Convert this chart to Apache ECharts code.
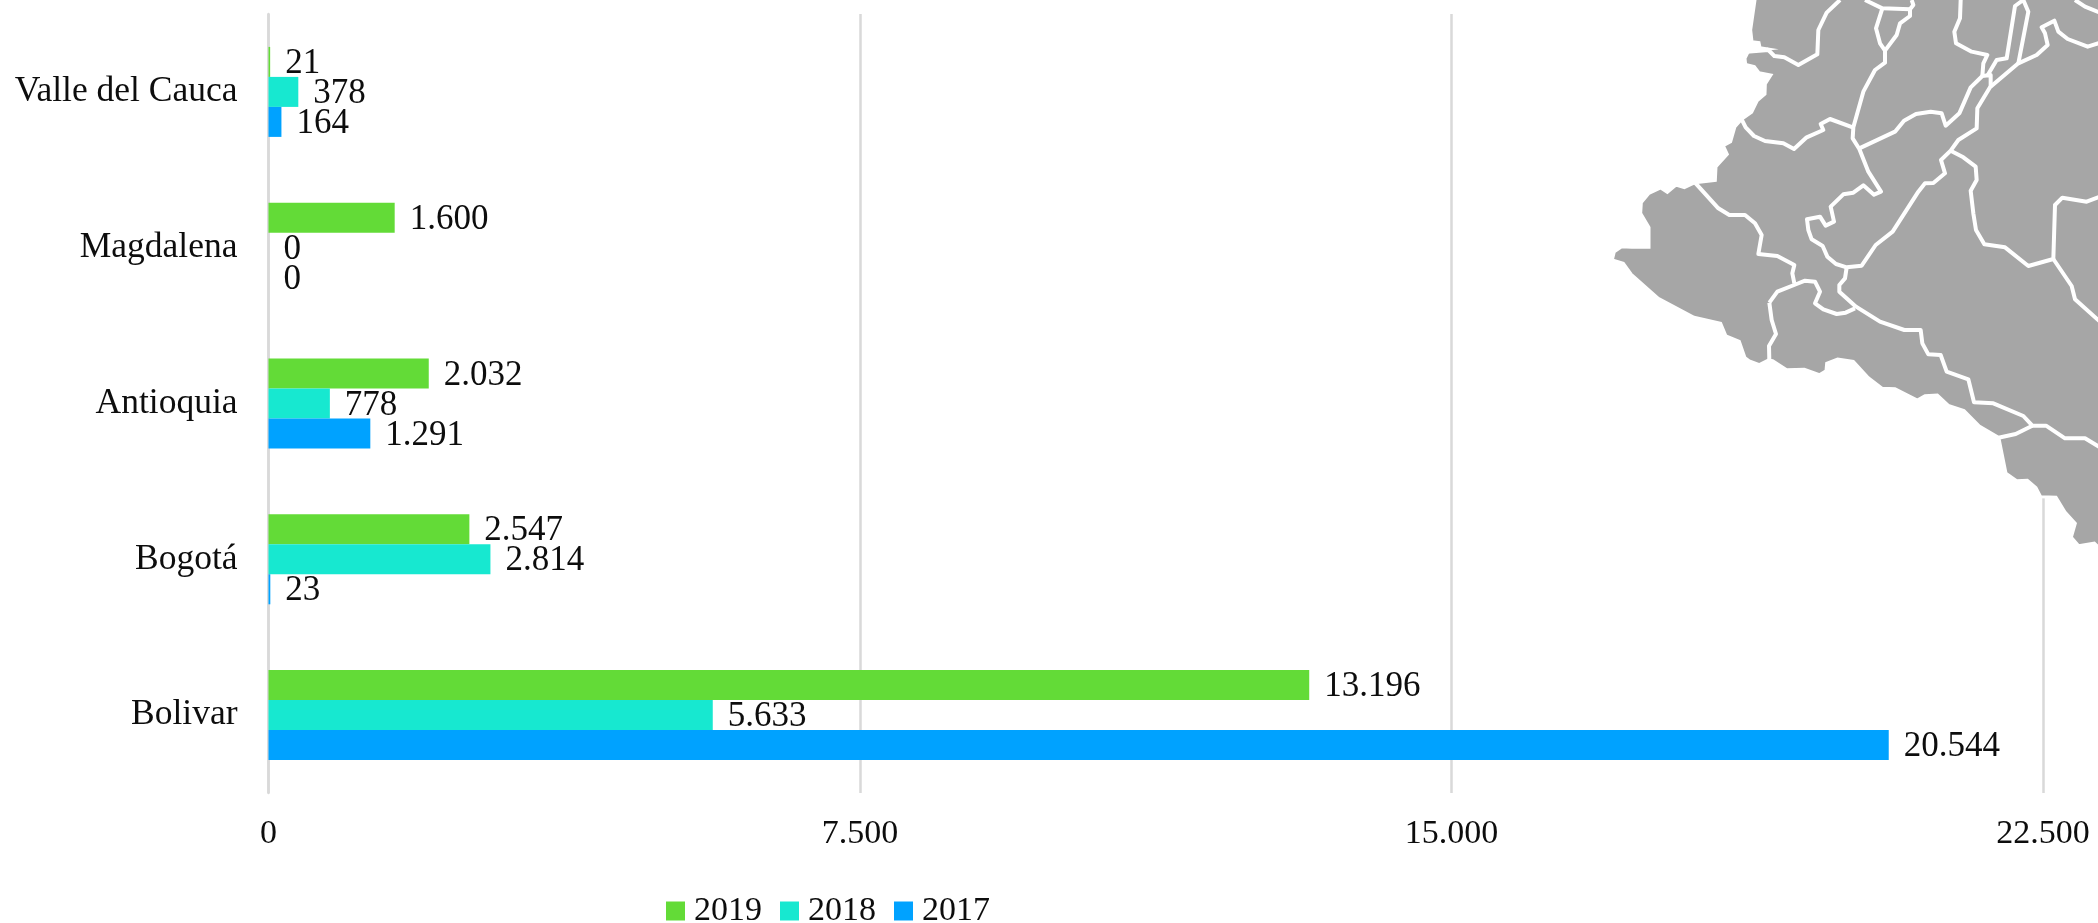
<!DOCTYPE html>
<html><head><meta charset="utf-8">
<style>html,body{margin:0;padding:0;background:#fff}#c{width:2098px;height:923px}</style>
<script src="https://cdn.jsdelivr.net/npm/echarts@6/dist/echarts.min.js"></script>
</head><body><div id="c"></div>
<script>
const categories = ['Bolivar','Bogotá','Antioquia','Magdalena','Valle del Cauca'];
const values2019 = [13196,2547,2032,1600,21];
const values2018 = [5633,2814,778,0,378];
const values2017 = [20544,23,1291,0,164];
const xTicks = [0,7500,15000,22500];

// Decorative background map, traced in crop coordinates (3x, origin 1580,0)
const mapOutline = [[525,0],[512,90],[516,125],[537,128],[540,143],[565,147],[505,155],[495,175],[497,193],[523,200],[537,218],[573,225],[556,252],[555,282],[532,302],[515,337],[485,358],[465,380],[452,425],[430,437],[442,463],[408,500],[406,541],[345,548],[313,563],[288,555],[262,577],[242,564],[207,580],[184,608],[182,640],[207,682],[207,742],[155,742],[125,740],[103,755],[97,780],[130,790],[153,822],[235,895],[342,952],[422,970],[438,1008],[478,1024],[495,1073],[508,1083],[538,1094],[565,1080],[578,1082],[620,1109],[673,1108],[718,1124],[738,1112],[740,1090],[773,1077],[820,1084],[865,1133],[907,1165],[945,1166],[1012,1200],[1035,1187],[1072,1185],[1105,1216],[1152,1232],[1198,1278],[1252,1310],[1258,1320],[1278,1420],[1310,1442],[1342,1441],[1368,1463],[1382,1490],[1428,1492],[1455,1536],[1486,1570],[1474,1612],[1496,1637],[1543,1629],[1560,1645],[1560,-5],[525,-5]];
const mapBorders = [
 [[500,155],[565,150],[583,168],[613,172],[655,195],[712,163],[715,90],[740,38],[780,0]],
 [[855,0],[907,25],[990,28]],
 [[995,0],[1000,15],[990,28],[990,48],[960,70],[950,105],[915,152],[900,130],[888,85],[907,25]],
 [[915,152],[915,188],[885,210],[850,275],[820,382],[818,415],[838,447],[865,515],[903,575],[882,584],[850,556],[820,578],[790,583],[752,620],[762,665],[737,677],[720,650],[681,658],[685,690],[695,718],[728,738],[742,770],[768,792],[800,802],[845,797],[887,735],[938,695],[1015,575],[1035,550],[1060,549],[1095,520],[1083,480],[1112,452],[1135,420],[1190,385],[1192,325],[1230,262],[1315,190],[1370,165],[1403,135],[1395,100],[1385,82],[1423,62],[1435,95],[1463,117],[1523,140],[1560,128]],
 [[485,358],[497,382],[522,408],[555,423],[610,430],[642,447],[680,412],[730,390],[722,372],[750,357],[818,382]],
 [[838,445],[945,395],[972,362],[1008,342],[1052,335],[1085,340],[1097,377],[1138,340],[1172,262],[1207,228],[1232,225],[1232,262]],
 [[1222,227],[1250,180],[1280,175],[1305,18],[1330,0],[1345,35],[1315,190]],
 [[1207,228],[1210,190],[1222,165],[1175,155],[1128,130],[1123,95],[1140,55],[1142,0]],
 [[1112,452],[1150,472],[1187,500],[1190,540],[1172,572],[1180,640],[1188,690],[1213,733],[1275,742],[1345,798],[1420,777],[1425,615],[1447,593],[1520,605],[1560,590]],
 [[1420,777],[1475,858],[1485,898],[1560,965]],
 [[1485,0],[1515,20],[1560,38]],
 [[345,548],[415,625],[448,645],[495,645],[525,670],[545,705],[535,762],[592,768],[643,795],[637,820],[643,850]],
 [[568,908],[592,875],[650,852],[675,842],[705,845],[720,875],[705,910],[730,928],[770,942],[797,938],[825,925]],
 [[568,908],[575,960],[588,1002],[567,1038],[568,1082]],
 [[800,802],[795,835],[778,855],[778,875],[828,920],[900,965],[973,990],[1022,990],[1027,1030],[1045,1063],[1082,1065],[1100,1115],[1165,1138],[1182,1207],[1240,1210],[1330,1248],[1357,1277],[1398,1277],[1455,1315],[1515,1315],[1560,1342]],
 [[1357,1277],[1307,1302],[1252,1314]]
];
const toPx = p => [1580 + p[0] / 3, p[1] / 3];
const FONT = '"Liberation Serif", serif';
const TEXT = '#0d0d0d';
const fmt = v => String(v).replace(/\B(?=(\d{3})+(?!\d))/g, '.');

const mapGraphics = [
 {type:'polygon', z:5, silent:true, shape:{points:mapOutline.map(toPx)}, style:{fill:'#a6a6a6', stroke:'#ffffff', lineWidth:3}},
 ...mapBorders.map(b => ({type:'polyline', z:6, silent:true, shape:{points:b.map(toPx)}, style:{fill:null, stroke:'#ffffff', lineWidth:4, lineJoin:'round'}}))
];

const mkSeries = (name, data, color) => ({
  name, type:'bar', data, barWidth:30, barGap:'0%', z:3,
  itemStyle:{color},
  label:{show:true, position:'right', distance:15, offset:[0,2], fontFamily:FONT, fontSize:35, color:TEXT, formatter:p=>fmt(p.value)}
});

const chart = echarts.init(document.getElementById('c'), null, {renderer:'canvas'});
chart.setOption({
  animation:false,
  backgroundColor:'#ffffff',
  textStyle:{fontFamily:FONT},
  grid:{left:268.5, right:55, top:14, bottom:130},
  legend:{
    left:661, top:889, icon:'rect', itemWidth:19, itemHeight:19, itemGap:18,
    data:['2019','2018','2017'],
    textStyle:{fontFamily:FONT, fontSize:34, color:TEXT, padding:[0,0,0,4]}
  },
  xAxis:{
    type:'value', min:xTicks[0], max:xTicks[3], interval:xTicks[1],
    axisLine:{show:false}, axisTick:{show:false},
    splitLine:{show:true, lineStyle:{color:'#d9d9d9', width:2.5}},
    axisLabel:{margin:24, fontFamily:FONT, fontSize:34, color:TEXT, formatter:fmt, hideOverlap:false, showMinLabel:true, showMaxLabel:true}
  },
  yAxis:{
    type:'category', data:categories,
    axisLine:{show:true, lineStyle:{color:'#d9d9d9', width:2.5}}, axisTick:{show:false},
    axisLabel:{margin:31, fontFamily:FONT, fontSize:35.5, color:TEXT, padding:[7,0,0,0]}
  },
  series:[
    mkSeries('2019', values2019, '#63db37'),
    mkSeries('2018', values2018, '#17e8d0'),
    mkSeries('2017', values2017, '#00a2ff')
  ],
  graphic:{elements:mapGraphics}
});
</script></body></html>
